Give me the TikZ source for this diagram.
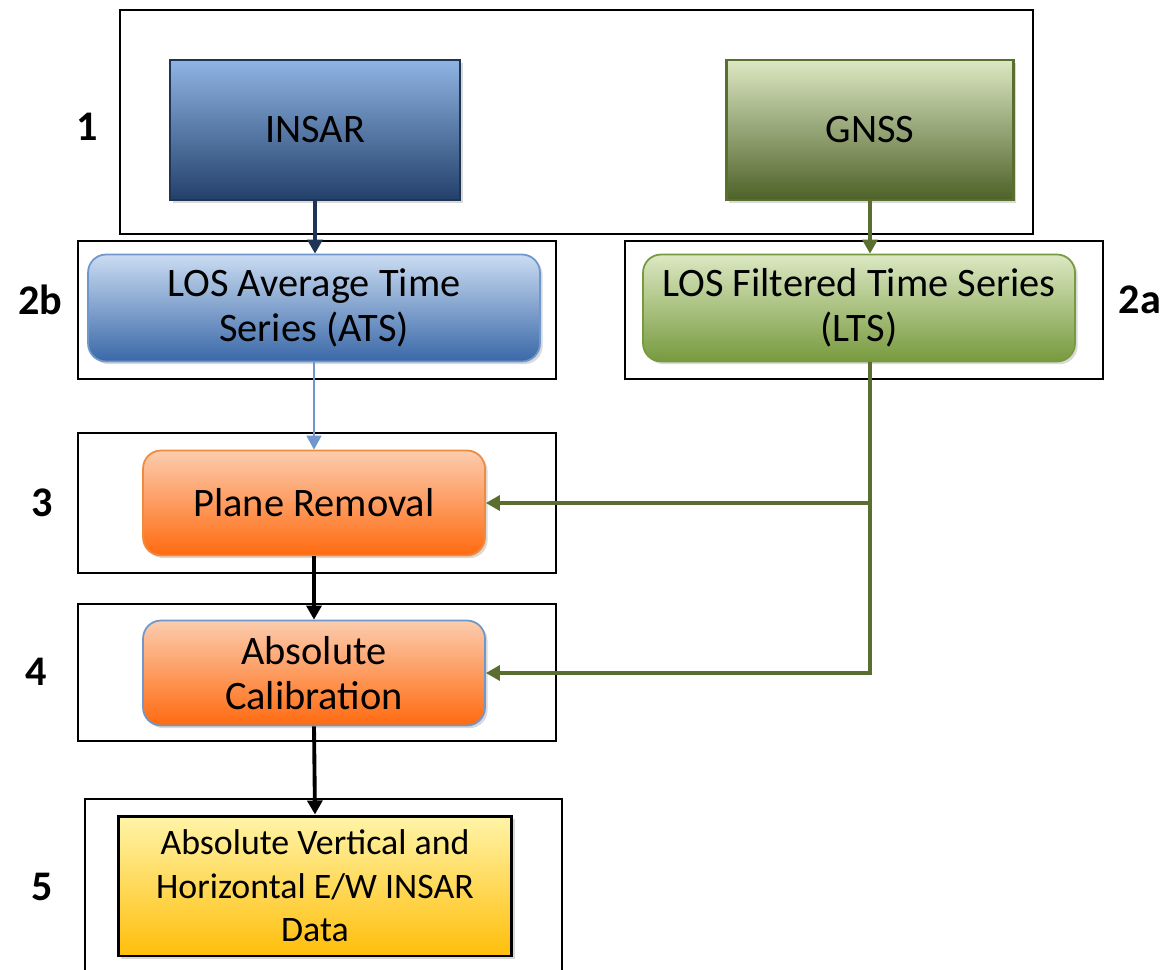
\documentclass[tikz,border=0pt]{standalone}
\usepackage{fontspec}
\setmainfont{Carlito}
\usetikzlibrary{shadows,arrows.meta}

% --- Colours ---
\definecolor{insartop}{HTML}{8FB4E3}
\definecolor{insarbot}{HTML}{23406B}
\definecolor{insarline}{HTML}{1F3556}
\definecolor{gnsstop}{HTML}{DCE8C3}
\definecolor{gnssbot}{HTML}{4E6128}
\definecolor{gnssline}{HTML}{5A6E2F}
\definecolor{atstop}{HTML}{CADCF2}
\definecolor{atsbot}{HTML}{3A68A8}
\definecolor{atsline}{HTML}{6F97CB}
\definecolor{ltstop}{HTML}{DCE8C3}
\definecolor{ltsbot}{HTML}{779A3E}
\definecolor{orangetop}{HTML}{FCCCAE}
\definecolor{orangebot}{HTML}{FF6A10}
\definecolor{orangeline}{HTML}{F08A3C}
\definecolor{yellowtop}{HTML}{FFF4A8}
\definecolor{yellowbot}{HTML}{FFBE0A}

\tikzset{
  stage/.style={draw=black, line width=1.1pt},
  steplabel/.style={font=\fontsize{24}{28}\selectfont\bfseries},
  block/.style={align=center, inner sep=0pt, text=black,
    font=\fontsize{23}{25.5}\selectfont,
    drop shadow={shadow xshift=1.5pt, shadow yshift=-1.5pt, opacity=0.3}},
  roundblock/.style={block, rounded corners=0.36cm},
  link/.style={line width=2.2pt, -{Triangle[length=8pt,width=8.5pt]}},
}

\begin{document}
\begin{tikzpicture}[x=0.02cm, y=-0.02cm]

\useasboundingbox (0,0) rectangle (1170,970);

% --- Stage frames ---
\draw[stage] (120,10) rectangle (1033,234);
\draw[stage] (78,241) rectangle (556,379);
\draw[stage] (625,241) rectangle (1103,379);
\draw[stage] (78,433) rectangle (556,573);
\draw[stage] (78,604) rectangle (556,741);
\draw[stage] (85,799) rectangle (562,980);

% --- Sources ---
\node[block, draw=insarline, line width=1.2pt, top color=insartop, bottom color=insarbot,
  minimum width=5.8cm, minimum height=2.8cm] (insar) at (315,130) {INSAR};
\node[block, draw=gnssline, line width=1.2pt, top color=gnsstop, bottom color=gnssbot,
  minimum width=5.74cm, minimum height=2.8cm] (gnss) at (870,130) {GNSS};

% --- Time series ---
\node[roundblock, draw=atsline, line width=1pt, top color=atstop, bottom color=atsbot,
  minimum width=9.04cm, minimum height=2.14cm] (ats) at (314,308)
  {LOS Average Time\\Series (ATS)};
\node[roundblock, draw=ltsbot, line width=1pt, top color=ltstop, bottom color=ltsbot,
  minimum width=8.64cm, minimum height=2.14cm] (lts) at (859,308)
  {LOS Filtered Time Series\\(LTS)};

% --- Processing ---
\node[roundblock, draw=orangeline, line width=1pt, top color=orangetop, bottom color=orangebot,
  minimum width=6.84cm, minimum height=2.1cm] (plane) at (314,503) {Plane Removal};
\node[roundblock, draw=atsline, line width=1pt, top color=orangetop, bottom color=orangebot,
  minimum width=6.84cm, minimum height=2.1cm] (abscal) at (314,673) {Absolute\\Calibration};

% --- Result ---
\node[block, draw=black, line width=1.7pt, top color=yellowtop, bottom color=yellowbot,
  minimum width=7.88cm, minimum height=2.8cm, font=\fontsize{20.4}{24.7}\selectfont]
  (result) at (315,886) {Absolute Vertical and\\Horizontal E/W INSAR\\Data};

% --- Step numbers ---
\node[steplabel] (n1) at (87,127) {1};
\node[steplabel] (n2b) at (40,300) {2b};
\node[steplabel] (n2a) at (1140,300) {2a};
\node[steplabel] (n3) at (42,503) {3};
\node[steplabel] (n4) at (36,672) {4};
\node[steplabel] (n5) at (42,887) {5};

% --- Connectors ---
\draw[link, insarline] (insar.south) -- (insar.south |- ats.north);
\draw[link, gnssline] (gnss.south) -- (gnss.south |- lts.north);
\draw[link, atsline, line width=1.1pt] (ats.south) -- (plane.north);
\draw[link, gnssline] (lts.south -| gnss.south) |- (plane.east);
\draw[link, gnssline] (lts.south -| gnss.south) |- (abscal.east);
\draw[link, black] (plane.south) -- (abscal.north);
\draw[link, black] (abscal.south) -- (result.north);

\end{tikzpicture}
\end{document}
